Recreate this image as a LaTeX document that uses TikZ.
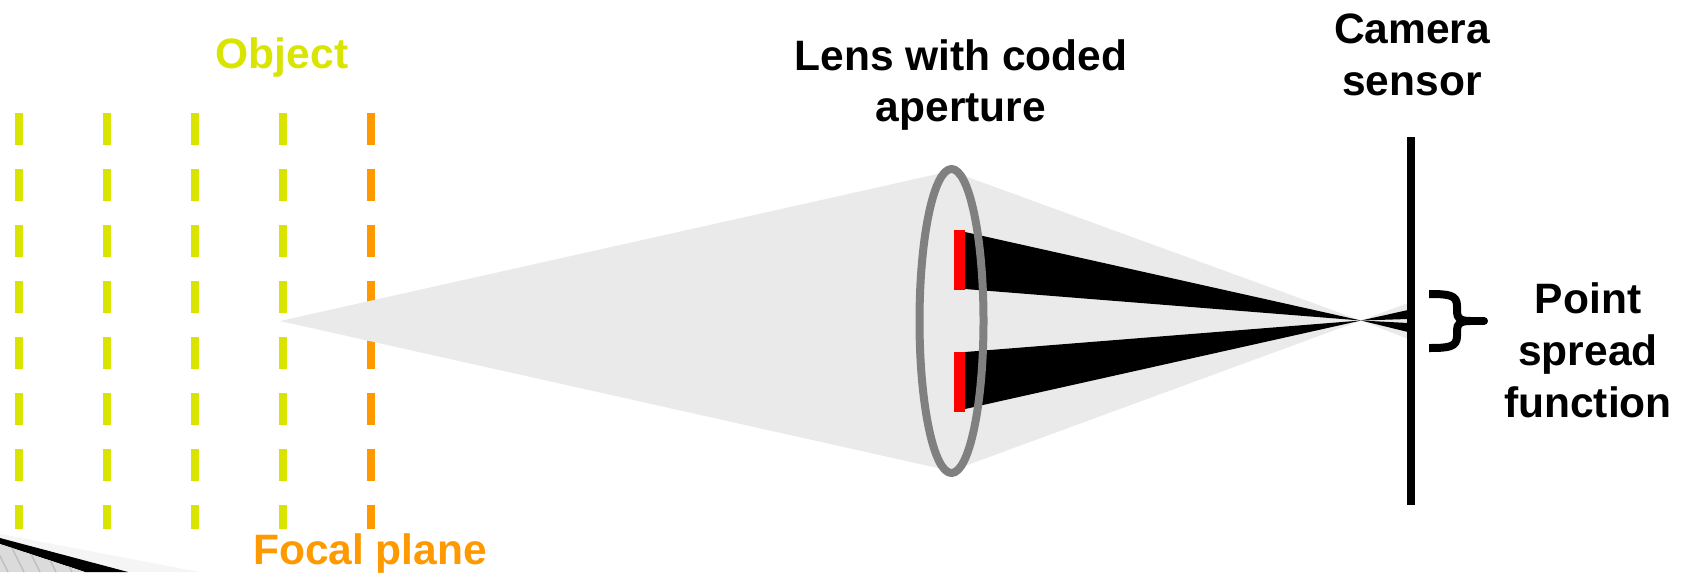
\documentclass[tikz,border=0pt]{standalone}
\usepackage{fontspec}
\setmainfont{Liberation Sans}
\usetikzlibrary{calc}
\definecolor{objectlime}{RGB}{217,228,0}
\definecolor{focalorange}{RGB}{255,153,0}
\definecolor{conegray}{RGB}{234,234,234}
\definecolor{lensgray}{RGB}{128,128,128}

\begin{document}
\begin{tikzpicture}[x=0.02cm,y=-0.02cm, line join=round]

\tikzset{
  label/.style={font=\fontsize{24.2}{29.5}\selectfont\bfseries, align=center, inner sep=0pt},
  plane/.style={line width=0.16cm, dash pattern=on 0.64cm off 0.48cm},
  cone/.style={fill=conegray, draw=none},
  beam/.style={fill=black, draw=none},
  mask/.style={fill=red, draw=none, minimum width=0.22cm, minimum height=1.2cm, inner sep=0pt},
  stroke/.style={line width=0.16cm}
}

\useasboundingbox (0,0) rectangle (1686,572);

% leftover corner of another slide
\fill[conegray!50] (0,534) -- (200,572) -- (0,572) -- cycle;
\fill[black] (0,538) -- (128,572) -- (85,572) -- (0,544) -- cycle;
\begin{scope}
\clip (0,544) -- (85,572) -- (0,572) -- cycle;
\fill[black!14] (0,544) rectangle (85,572);
\foreach \sx in {-6,10,26,42,58}
  \draw[black!25, line width=0.03cm] (\sx,544) -- ({\sx+14},572);
\end{scope}

% object planes
\foreach \px in {19,107,195,283}
  \draw[plane, objectlime] (\px,113) -- (\px,529);
\draw[plane, focalorange] (371,113) -- (371,529);

% light cones
\coordinate (point) at (280,321);
\coordinate (focus) at (1361,320.5);
\fill[cone] (point) -- (951,171) -- (951,471) -- cycle;
\fill[cone] (951,171) -- (focus) -- (951,471) -- cycle;
\fill[cone] (focus) -- (1408,303) -- (1408,339) -- cycle;

% coded aperture beams
\fill[beam] (965,232) -- (focus) -- (965,289) -- cycle;
\fill[beam] (965,352) -- (focus) -- (965,409) -- cycle;
\fill[beam] (focus) -- (1408,310) -- (1408,319) -- cycle;
\fill[beam] (focus) -- (1408,323) -- (1408,332) -- cycle;

% lens and mask
\node[mask] (mask1) at (959.5,259.5) {};
\node[mask] (mask2) at (959.5,382) {};
\draw[draw=lensgray, stroke] (951.5,321) ellipse (32 and 152);

% sensor
\draw[stroke] (1411,137) -- (1411,505);

% bracket
\draw[stroke] (1429,294) .. controls (1449,294) and (1457,295) .. (1457,306) -- (1457,312)
  .. controls (1457,318) and (1460,321) .. (1470,321);
\draw[stroke] (1429,348) .. controls (1449,348) and (1457,347) .. (1457,336) -- (1457,330)
  .. controls (1457,324) and (1460,321) .. (1470,321);
\draw[stroke, line cap=round] (1468,321) -- (1484,321);

% labels
\node[label, text=objectlime] (object) at (282,58) {Object};
\node[label] (lens) at (961,85) {Lens with coded\\aperture};
\node[label] (camera) at (1412,55) {Camera\\sensor};
\node[label] (psf) at (1588,350) {Point\\spread\\function};
\node[label, text=focalorange] (focal) at (370,553) {Focal plane};

\end{tikzpicture}
\end{document}
